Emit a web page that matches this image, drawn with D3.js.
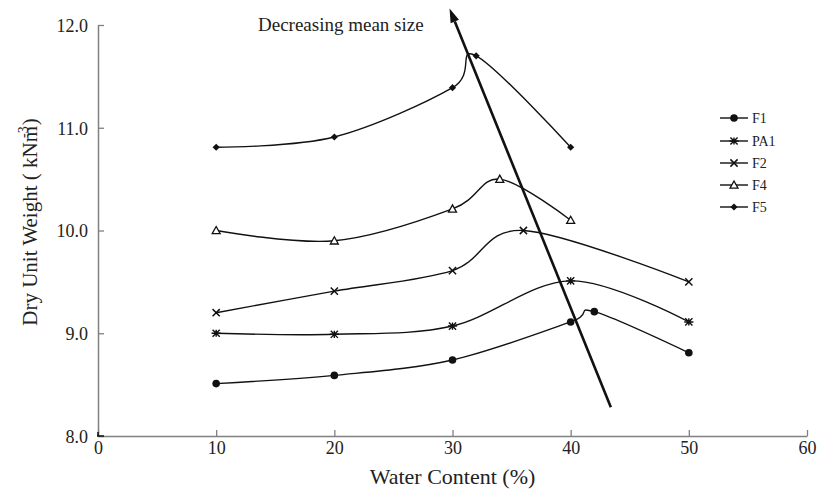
<!DOCTYPE html>
<html>
<head>
<meta charset="utf-8">
<script src="https://cdn.jsdelivr.net/npm/d3@7"></script>
<style>
  html, body { margin: 0; padding: 0; background: #fff; }
  svg { display: block; font-family: "Liberation Serif", "DejaVu Serif", serif; }
</style>
</head>
<body>
<svg id="chart" width="821" height="492"></svg>
<script>
// ---- data ----
const seriesNames = ["F1", "PA1", "F2", "F4", "F5"];
const markerTypes = ["circle", "asterisk", "cross", "triangle", "diamond"];
const F1x = [10, 20, 30, 40, 42, 50];
const F1y = [8.51, 8.59, 8.74, 9.11, 9.21, 8.81];
const PA1x = [10, 20, 30, 40, 50];
const PA1y = [9.00, 8.99, 9.07, 9.51, 9.11];
const F2x = [10, 20, 30, 36, 50];
const F2y = [9.20, 9.41, 9.61, 10.00, 9.50];
const F4x = [10, 20, 30, 34, 40];
const F4y = [10.00, 9.90, 10.21, 10.50, 10.10];
const F5x = [10, 20, 30, 32, 40];
const F5y = [10.81, 10.91, 11.39, 11.70, 10.81];
const xTicks = [0, 10, 20, 30, 40, 50, 60];
const yTicks = [8, 9, 10, 11, 12];
const arrowFrom = [43.4, 8.28];
const arrowTo = [29.75, 12.16];
const arrowLabel = "Decreasing mean size";
const xTitle = "Water Content (%)";

const seriesX = [F1x, PA1x, F2x, F4x, F5x];
const seriesY = [F1y, PA1y, F2y, F4y, F5y];

// ---- layout ----
const svg = d3.select("#chart");
const x = d3.scaleLinear().domain([0, 60]).range([98, 807]);
const y = d3.scaleLinear().domain([8, 12]).range([436, 25]);
const axisColor = "#808080";

// axes
const xAxis = svg.append("g").attr("transform", `translate(0,${y(8)})`)
  .call(d3.axisBottom(x).tickValues(xTicks).tickSizeInner(-6).tickSizeOuter(0).tickPadding(0).tickFormat(d3.format("d")));
const yAxis = svg.append("g").attr("transform", `translate(${x(0)},0)`)
  .call(d3.axisLeft(y).tickValues(yTicks).tickSizeInner(-6).tickSizeOuter(0).tickPadding(0).tickFormat(d3.format(".1f")));
[xAxis, yAxis].forEach(a => {
  a.select(".domain").attr("stroke", axisColor).attr("stroke-width", 1.5);
  a.selectAll(".tick line").attr("stroke", axisColor).attr("stroke-width", 1.3);
  a.selectAll("text").attr("fill", "#222").style("font-size", "18px")
    .style("font-family", '"Liberation Serif", serif');
});
xAxis.selectAll("text").attr("y", 0).attr("dy", "18px");
yAxis.selectAll("text").attr("x", -10).attr("dy", "0.35em");
// dark corner bits
svg.append("line").attr("x1", x(0) - 1).attr("x2", x(0) + 6).attr("y1", y(8)).attr("y2", y(8)).attr("stroke", "#111").attr("stroke-width", 1.5);
svg.append("line").attr("x1", x(0)).attr("x2", x(0)).attr("y1", y(8) - 4).attr("y2", y(8)).attr("stroke", "#111").attr("stroke-width", 1.5);

// axis titles
svg.append("text").attr("x", (x(0) + x(60)) / 2).attr("y", 484)
  .attr("text-anchor", "middle").style("font-size", "22px").attr("fill", "#222").text(xTitle);
const yt = svg.append("text").attr("transform", "translate(37,222) rotate(-90)")
  .attr("text-anchor", "middle").style("font-size", "21px").attr("fill", "#222");
yt.append("tspan").text("Dry Unit Weight ( kNm");
yt.append("tspan").attr("dx", -12).attr("dy", -9).style("font-size", "14px").text("-3");
yt.append("tspan").attr("dx", 1).attr("dy", 9).text(")");

// markers
function drawMarker(g, type, cx, cy) {
  const s = 3.6;
  if (type === "circle") {
    g.append("circle").attr("cx", cx).attr("cy", cy).attr("r", 3.8).attr("fill", "#111");
  } else if (type === "diamond") {
    g.append("path").attr("d", `M${cx},${cy - 3.6}L${cx + 3.6},${cy}L${cx},${cy + 3.6}L${cx - 3.6},${cy}Z`).attr("fill", "#111");
  } else if (type === "triangle") {
    g.append("path").attr("d", `M${cx},${cy - 4}L${cx + 4},${cy + 3.2}L${cx - 4},${cy + 3.2}Z`)
      .attr("fill", "#fff").attr("stroke", "#111").attr("stroke-width", 1.3);
  } else if (type === "cross") {
    g.append("path").attr("d", `M${cx - s},${cy - s}L${cx + s},${cy + s}M${cx - s},${cy + s}L${cx + s},${cy - s}`)
      .attr("stroke", "#111").attr("stroke-width", 1.5);
  } else if (type === "asterisk") {
    g.append("path").attr("d", `M${cx - s},${cy - s}L${cx + s},${cy + s}M${cx - s},${cy + s}L${cx + s},${cy - s}M${cx - s - 1},${cy}L${cx + s + 1},${cy}M${cx},${cy - s}L${cx},${cy + s}`)
      .attr("stroke", "#111").attr("stroke-width", 1.4);
  }
}

// series
const line = d3.line().x(d => x(d[0])).y(d => y(d[1])).curve(d3.curveCardinal.tension(0));
seriesNames.forEach((name, i) => {
  const pts = seriesX[i].map((v, j) => [v, seriesY[i][j]]);
  const g = svg.append("g");
  g.append("path").attr("d", line(pts)).attr("fill", "none").attr("stroke", "#111").attr("stroke-width", 1.4);
  pts.forEach(p => drawMarker(g, markerTypes[i], x(p[0]), y(p[1])));
});

// arrow
const ax1 = x(arrowFrom[0]), ay1 = y(arrowFrom[1]);
const ax2 = x(arrowTo[0]), ay2 = y(arrowTo[1]);
const ang = Math.atan2(ay2 - ay1, ax2 - ax1);
const headLen = 14, headW = 4.5;
const bx = ax2 - headLen * Math.cos(ang), by = ay2 - headLen * Math.sin(ang);
svg.append("line").attr("x1", ax1).attr("y1", ay1).attr("x2", bx).attr("y2", by)
  .attr("stroke", "#111").attr("stroke-width", 2.6);
const px = -Math.sin(ang) * headW, py = Math.cos(ang) * headW;
svg.append("path").attr("d", `M${ax2},${ay2}L${bx + px},${by + py}L${bx - px},${by - py}Z`).attr("fill", "#111");
svg.append("text").attr("x", 258).attr("y", 31).style("font-size", "19px").attr("fill", "#222").text(arrowLabel);

// legend
const legY = [118, 141, 163, 185, 207];
seriesNames.forEach((name, i) => {
  const g = svg.append("g");
  g.append("line").attr("x1", 720).attr("x2", 748).attr("y1", legY[i]).attr("y2", legY[i]).attr("stroke", "#111").attr("stroke-width", 1.4);
  drawMarker(g, markerTypes[i], 734, legY[i]);
  g.append("text").attr("x", 752).attr("y", legY[i]).attr("dy", "0.35em").style("font-size", "14px").attr("fill", "#222").text(name);
});
</script>
</body>
</html>
